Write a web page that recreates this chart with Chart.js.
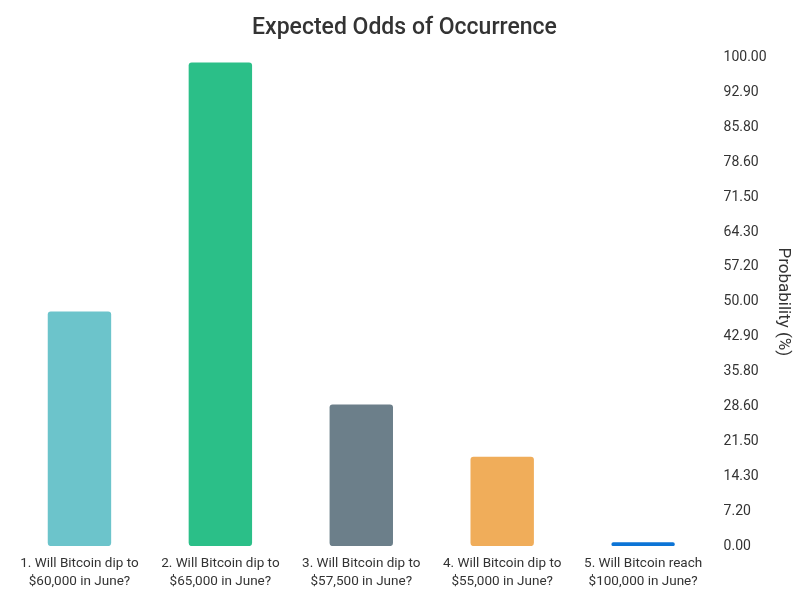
<!DOCTYPE html>
<html>
<head>
<meta charset="utf-8">
<script src="https://cdn.jsdelivr.net/npm/chart.js@4"></script>
<style>
    html, body { margin: 0; padding: 0; background: #fff; }
    #wrap { width: 800px; height: 600px; }
</style>
</head>
<body>
<div id="wrap"><canvas id="oddsChart"></canvas></div>
<script>
const questions = [
    ['1. Will Bitcoin dip to', '$60,000 in June?'],
    ['2. Will Bitcoin dip to', '$65,000 in June?'],
    ['3. Will Bitcoin dip to', '$57,500 in June?'],
    ['4. Will Bitcoin dip to', '$55,000 in June?'],
    ['5. Will Bitcoin reach', '$100,000 in June?']
];
const probabilities = [48, 99, 29, 18.3, 0.8];
const barColors = ['#6cc4cb', '#2bbf88', '#6c7f8a', '#f0ad5a', '#0c74d6'];
const tickLabels = ['0.00', '7.20', '14.30', '21.50', '28.60', '35.80', '42.90', '50.00',
    '57.20', '64.30', '71.50', '78.60', '85.80', '92.90', '100.00'];

Chart.defaults.font.family = 'Roboto, "Noto Sans", sans-serif';
Chart.defaults.color = '#444';

new Chart(document.getElementById('oddsChart'), {
    type: 'bar',
    data: {
        labels: questions,
        datasets: [{
            label: 'Probability (%)',
            data: probabilities,
            backgroundColor: barColors,
            borderRadius: 3,
            borderSkipped: false,
            barPercentage: 0.9,
            categoryPercentage: 0.5
        }]
    },
    options: {
        responsive: true,
        maintainAspectRatio: false,
        animation: false,
        layout: { padding: { left: 9, right: 0, top: 4, bottom: 0 } },
        plugins: {
            legend: { display: false },
            tooltip: { enabled: false },
            title: {
                display: true,
                text: 'Expected Odds of Occurrence',
                color: '#333',
                font: { size: 23, weight: '500' },
                padding: { top: 10, bottom: 16 }
            }
        },
        scales: {
            x: {
                grid: { display: false, drawTicks: false },
                border: { display: false },
                ticks: {
                    color: '#333',
                    font: { size: 13.5, lineHeight: 1.33 },
                    maxRotation: 0,
                    autoSkip: false,
                    padding: 9
                }
            },
            y: {
                position: 'right',
                min: 0,
                max: 100,
                grid: { display: false, drawTicks: false },
                border: { display: false },
                afterBuildTicks: axis => {
                    axis.ticks = tickLabels.map((t, i) => ({ value: i * 100 / (tickLabels.length - 1) }));
                },
                ticks: {
                    color: '#333',
                    font: { size: 14 },
                    padding: 10,
                    callback: (value, index) => tickLabels[index]
                },
                title: {
                    display: true,
                    text: 'Probability (%)',
                    color: '#333',
                    font: { size: 17 },
                    padding: { top: 7, bottom: -4 }
                }
            }
        }
    }
});
</script>
</body>
</html>
